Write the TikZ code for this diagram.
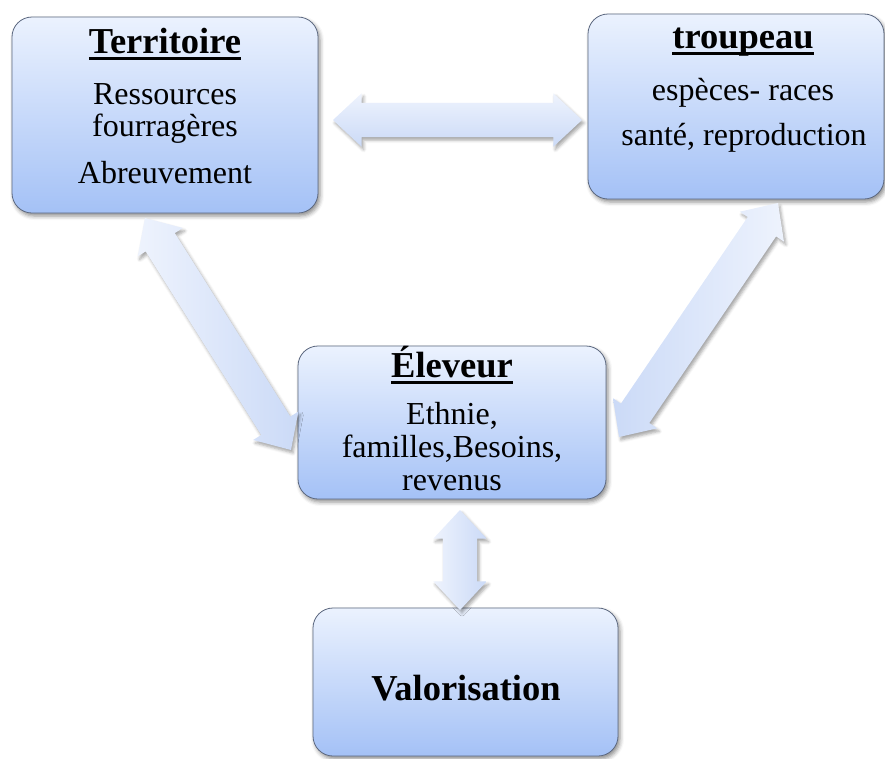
\documentclass[tikz,border=0pt]{standalone}
\usepackage{fontspec}
\setmainfont{Liberation Serif}
\usetikzlibrary{shapes.arrows,shadows.blur,calc}
\definecolor{boxtop}{RGB}{235,242,254}
\definecolor{boxbot}{RGB}{164,193,246}
\definecolor{boxline}{RGB}{92,104,128}
\definecolor{arrlight}{RGB}{238,243,253}
\definecolor{arrdark}{RGB}{203,218,247}
\tikzset{
  box/.style={draw=boxline, line width=0.8pt, rounded corners=20pt,
    top color=boxtop, bottom color=boxbot, inner sep=0pt,
    blur shadow={shadow xshift=2pt, shadow yshift=-3pt, shadow opacity=45, shadow blur radius=4pt}},
  titletext/.style={anchor=base, inner sep=0pt, font=\fontsize{36.5}{39}\selectfont\bfseries},
  bodytext/.style={anchor=base, inner sep=0pt, font=\fontsize{32}{34}\selectfont},
  uline/.style={line width=2.5pt},
  fatarrow/.style={double arrow, double arrow head extend=9.5pt, double arrow tip angle=86,
    inner sep=0pt, draw=none,
    blur shadow={shadow xshift=2pt, shadow yshift=-3pt, shadow opacity=35, shadow blur radius=3pt}},
  acrossshade/.style={top color=arrlight, bottom color=arrdark},
}
\newcommand\blockarrow[3][]{%
  \path let \p1=(#2), \p2=(#3),
    \n1={veclen(\x2-\x1,\y2-\y1)}, \n2={atan2(\y2-\y1,\x2-\x1)} in
    node[fatarrow, minimum height=\n1, rotate=\n2, #1] at ($(#2)!0.5!(#3)$) {\rule{0pt}{34pt}};}
\newcommand\underl[1]{%
  \draw[uline] ($(#1.base west)+(0,5.5)$) -- ($(#1.base east)+(0,5.5)$);}
\begin{document}
\begin{tikzpicture}[x=1pt,y=-1pt]
\useasboundingbox (0,0) rectangle (885,758);
% boxes
\node[box, minimum width=306pt, minimum height=196pt] (terr) at (165,115) {};
\node[box, minimum width=296pt, minimum height=185pt] (troup) at (736,106.5) {};
\node[box, minimum width=308pt, minimum height=153pt] (elev) at (452,422.5) {};
\node[box, minimum width=305pt, minimum height=148pt] (valo) at (465.5,682) {};
% texts
\node[titletext] (t1) at (165,53) {Territoire};
\node[bodytext] (t1a) at (165,104) {Ressources};
\node[bodytext] (t1b) at (165,136) {fourragères};
\node[bodytext] (t1c) at (165,183) {Abreuvement};
\node[titletext] (t2) at (743,48) {troupeau};
\node[bodytext] (t2a) at (743,100) {espèces- races};
\node[bodytext] (t2b) at (744,145) {santé, reproduction};
\node[titletext] (t3) at (452,377) {Éleveur};
\node[bodytext] (t3a) at (452,424) {Ethnie,};
\node[bodytext] (t3b) at (452,457) {familles,Besoins,};
\node[bodytext] (t3c) at (452,490) {revenus};
\node[titletext] (t4) at (466,700) {Valorisation};
\underl{t1}
\underl{t2}
\underl{t3}
% arrow end points
\coordinate (h1) at (333,120);
\coordinate (h2) at (582,120);
\coordinate (l1) at (145,218);
\coordinate (l2) at (291,450);
\coordinate (r1) at (778,203);
\coordinate (r2) at (619,437);
\coordinate (v1) at (460,510);
\coordinate (v2) at (460,610);
% block arrows
\blockarrow[name=ah, acrossshade]{h1}{h2}
\blockarrow[name=al, left color=arrlight, right color=arrdark]{l1}{l2}
\blockarrow[name=ar, left color=arrdark, right color=arrlight]{r2}{r1}
\blockarrow[name=av, left color=arrlight, right color=arrdark]{v1}{v2}
\end{tikzpicture}
\end{document}
